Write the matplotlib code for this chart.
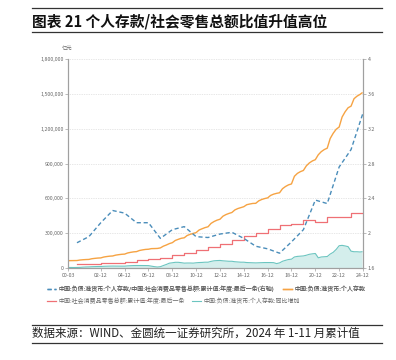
import matplotlib
matplotlib.use('Agg')
import matplotlib.pyplot as plt
from matplotlib.lines import Line2D
from matplotlib.ticker import FuncFormatter
import pandas as pd

plt.rcParams['font.family'] = ['Noto Sans CJK SC', 'DejaVu Sans']
plt.rcParams['axes.unicode_minus'] = False

#%% data (亿元), quarterly Mar/Jun/Sep/Dec 2000-03 .. 2024-09, last point 2024-11
q_dates = list(pd.date_range('2000-03-01', '2024-09-01', freq='3MS')) + [pd.Timestamp('2024-11-01')]

deposits = [
    63200, 63500, 63900, 64300,
    68600, 71000, 72800, 73800,
    79700, 83000, 85600, 86900,
    94400, 98600, 101900, 103600,
    110800, 114800, 118000, 119600,
    129300, 134700, 139000, 141100,
    150800, 155900, 160000, 161600,
    166800, 167500, 168500, 173000,
    188000, 198000, 210000, 218000,
    237000, 247000, 256000, 260000,
    280000, 290000, 298000, 305000,
    327000, 338000, 348000, 355000,
    384000, 400000, 412000, 420000,
    446000, 460000, 470000, 478000,
    500000, 512000, 520000, 528000,
    545000, 551000, 556000, 557000,
    578000, 590000, 598000, 604000,
    625000, 636000, 643000, 648000,
    683000, 702000, 716000, 724000,
    790000, 815000, 830000, 840000,
    880000, 905000, 922000, 933000,
    975000, 1002000, 1020000, 1032000,
    1115000, 1160000, 1195000, 1214000,
    1300000, 1345000, 1380000, 1394000,
    1458000, 1480000, 1495000, 1508000,
]

deposit_yoy = [
    4000, 4500, 4200, 4700,
    5400, 7500, 8900, 9500,
    11100, 12000, 12800, 13100,
    14700, 15600, 16300, 16700,
    16400, 16200, 16100, 16000,
    18500, 19900, 21000, 21500,
    21500, 21200, 21000, 20500,
    16000, 11600, 8500, 11400,
    21200, 30500, 41500, 45000,
    49000, 49000, 46000, 42000,
    43000, 43000, 42000, 45000,
    47000, 48000, 50000, 50000,
    57000, 62000, 64000, 65000,
    62000, 60000, 58000, 58000,
    54000, 52000, 50000, 50000,
    47000, 46000, 45000, 44000,
    45000, 46000, 47000, 47000,
    47000, 46000, 38000, 44000,
    58000, 66000, 73000, 76000,
    95000, 100000, 102000, 104000,
    110000, 118000, 122000, 125000,
    88000, 95000, 97000, 99000,
    120000, 135000, 160000, 192000,
    195000, 190000, 184000, 145000,
    140000, 140000, 138000, 140000,
]

# annual retail sales, value of each year shown from its December
years = list(range(2000, 2024))
retail = [34200, 37600, 40900, 45800, 53900, 67200, 76400, 89200, 108500, 125300,
          157000, 183900, 210300, 237800, 271900, 300900, 332300, 366300, 381000,
          411600, 392000, 440800, 439700, 471500]

# deposits / retail sales ratio, 2000-12 .. 2024-12
ratio = [1.89, 1.96, 2.12, 2.26, 2.23, 2.12, 2.12, 1.94, 2.04, 2.075,
         1.96, 1.95, 1.99, 2.01, 1.94, 1.85, 1.82, 1.77, 1.90, 2.04,
         2.38, 2.34, 2.76, 2.96, 3.38]

xtick_labels = ['00-03', '02-12', '04-12', '06-12', '08-12', '10-12', '12-12',
                '14-12', '16-12', '18-12', '20-12', '22-12', '24-12']
xtick_dates = ['2000-03-01'] + [f'{y}-12-01' for y in range(2002, 2025, 2)]

legend_labels = [
    '中国:负债:准货币:个人存款/中国:社会消费品零售总额:累计值:年度:最后一条(右轴)',
    '中国:负债:准货币:个人存款',
    '中国:社会消费品零售总额:累计值:年度:最后一条',
    '中国:负债:准货币:个人存款:同比增加',
]

c_blue = '#4a8dba'
c_orange = '#f6a343'
c_red = '#ef7075'
c_teal = '#6cc5c0'
c_fill = '#d4eeec'
c_axis = '#a0a0a0'
c_text = '#666666'

#%% figure
fig = plt.figure(figsize=(3.96, 3.6), dpi=100)
ax = fig.add_axes([68 / 396, 1 - 268 / 360, 295 / 396, 209 / 360])
ax2 = ax.twinx()

ax.fill_between(q_dates, 0, deposit_yoy, color=c_fill, lw=0, zorder=1)
l_teal, = ax.plot(q_dates, deposit_yoy, color=c_teal, lw=0.8, zorder=2)

red_dates = [pd.Timestamp(f'{y}-12-01') for y in years] + [pd.Timestamp('2024-12-01')]
l_red, = ax.plot(red_dates, retail + retail[-1:], color=c_red, lw=0.9,
                 drawstyle='steps-post', zorder=3)
l_orange, = ax.plot(q_dates, deposits, color=c_orange, lw=1.0, zorder=4)

ratio_dates = pd.date_range('2000-12-01', periods=len(ratio), freq='12MS')
l_blue, = ax2.plot(ratio_dates, ratio, color=c_blue, lw=1.0, ls=(0, (3, 2)), zorder=5)

ax.set_xlim(pd.Timestamp('2000-03-01'), pd.Timestamp('2024-12-01'))
ax.set_ylim(0, 1800000)
ax2.set_ylim(1.6, 4)
ax.set_yticks(range(0, 1800001, 300000))
ax2.set_yticks([1.6, 2, 2.4, 2.8, 3.2, 3.6, 4])
ax.yaxis.set_major_formatter(FuncFormatter(lambda v, p: f'{v:,.0f}'))
ax2.yaxis.set_major_formatter(FuncFormatter(lambda v, p: f'{v:g}'))
ax.set_xticks(pd.to_datetime(xtick_dates))
ax.set_xticklabels(xtick_labels)

ax.grid(axis='y', ls=(0, (1, 1.5)), color='#cfcfcf', lw=0.5)
ax.set_axisbelow(True)
for a in (ax, ax2):
    for s in a.spines.values():
        s.set_color(c_axis)
        s.set_linewidth(0.8)
    a.spines['top'].set_visible(False)
    a.tick_params(labelsize=3.8, colors=c_axis, labelcolor=c_text,
                  length=2.5, width=0.5, pad=0.8)

fig.text(67 / 396, 1 - 48 / 360, '亿元', fontsize=3.8, color=c_text, ha='center', va='center')

# legend, two rows
leg_kw = dict(loc='center left', ncol=2, frameon=False, fontsize=4.3, labelcolor=c_text,
              handlelength=1.5, handletextpad=0.45, borderpad=0, borderaxespad=0)
lg1 = fig.legend([l_blue, l_orange], legend_labels[:2],
                 bbox_to_anchor=(47 / 396, 1 - 289 / 360), columnspacing=1.4, **leg_kw)
lg2 = fig.legend([l_red, l_teal], legend_labels[2:],
                 bbox_to_anchor=(47 / 396, 1 - 301 / 360), columnspacing=1.1, **leg_kw)
fig.add_artist(lg1)

# title and footer with rules
for yy in (7.5, 31.7, 325, 343.3):
    fig.add_artist(Line2D([32 / 396, 382 / 396], [1 - yy / 360] * 2,
                          transform=fig.transFigure, color='#333333', lw=0.9))
fig.text(32 / 396, 1 - 21.5 / 360, '图表 21 个人存款/社会零售总额比值升值高位',
         fontsize=10.6, fontweight='bold', color='#111111', va='center', ha='left')
fig.text(32 / 396, 1 - 333.5 / 360, '数据来源：WIND、金圆统一证券研究所，2024 年 1-11 月累计值',
         fontsize=8.3, color='#222222', va='center', ha='left')

fig.savefig('out.png', dpi=100)
